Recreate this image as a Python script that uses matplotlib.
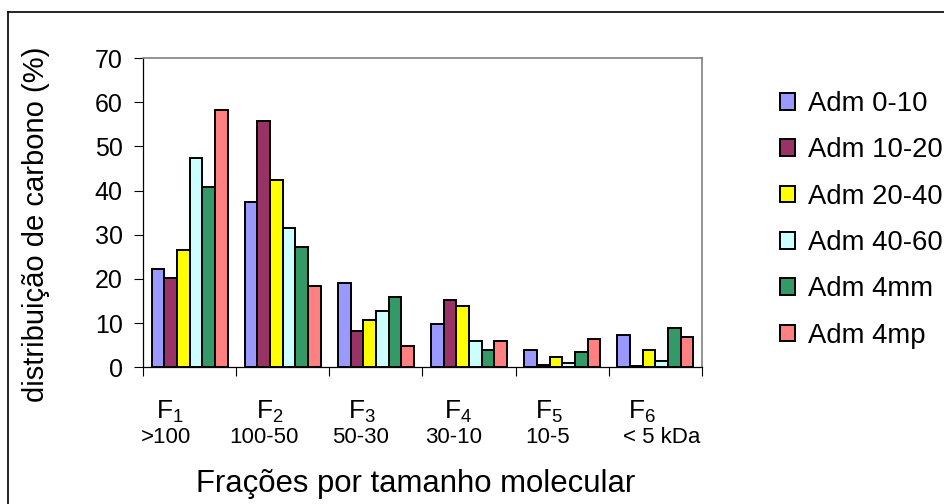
import matplotlib
matplotlib.use("Agg")
import matplotlib.pyplot as plt
import numpy as np
from matplotlib.lines import Line2D

plt.rcParams['font.family'] = ['Liberation Sans', 'DejaVu Sans']
plt.rcParams['mathtext.fontset'] = 'custom'
plt.rcParams['mathtext.rm'] = 'Liberation Sans'
plt.rcParams['mathtext.it'] = 'Liberation Sans'

# Molecular-size fractions
fractions = ["F$_1$", "F$_2$", "F$_3$", "F$_4$", "F$_5$", "F$_6$"]
size_ranges = [">100", "100-50", "50-30", "30-10", "10-5", "< 5 kDa"]

# Carbon distribution (%) per treatment
series_names = ["Adm 0-10", "Adm 10-20", "Adm 20-40", "Adm 40-60", "Adm 4mm", "Adm 4mp"]
adm_0_10 = [22.2, 37.5, 19.1, 9.9, 3.9, 7.4]
adm_10_20 = [20.1, 55.7, 8.3, 15.2, 0.5, 0.4]
adm_20_40 = [26.6, 42.4, 10.8, 13.8, 2.3, 3.9]
adm_40_60 = [47.3, 31.5, 12.8, 5.9, 1.0, 1.5]
adm_4mm = [40.9, 27.2, 15.8, 3.9, 3.4, 8.8]
adm_4mp = [58.2, 18.4, 4.9, 5.9, 6.4, 6.9]
series_values = [adm_0_10, adm_10_20, adm_20_40, adm_40_60, adm_4mm, adm_4mp]

colors = ["#9999FF", "#993366", "#FFFF00", "#CCFFFF", "#339966", "#FF8080"]

fig = plt.figure(figsize=(9.44, 5.04), dpi=100)
ax = fig.add_axes([143 / 944, 1 - 367.3 / 504, 559 / 944, 309.3 / 504])

x = np.arange(len(fractions))
n = len(series_values)
width = 0.136
for i, (name, vals, c) in enumerate(zip(series_names, series_values, colors)):
    ax.bar(x + (i - (n - 1) / 2) * width, vals, width, color=c,
           edgecolor="black", linewidth=1.4, label=name, zorder=3)

ax.set_xlim(-0.5, len(fractions) - 0.5)
ax.set_ylim(0, 70)
ax.set_yticks(np.arange(0, 71, 10))
ax.tick_params(axis="y", direction="out", length=6.5, width=0.8,
               labelsize=18, pad=8)
ax.set_xticks(np.arange(-0.5, len(fractions), 1.0))
ax.set_xticklabels([])
ax.tick_params(axis="x", direction="out", length=6.3, width=0.8)

for side in ("left", "bottom"):
    ax.spines[side].set_color("black")
    ax.spines[side].set_linewidth(0.9)
for side in ("top", "right"):
    ax.spines[side].set_color("#808080")
    ax.spines[side].set_linewidth(1.2)

# Category labels: fraction name above its size range
label_shift = [-0.21, -0.14, -0.15, -0.12, -0.14, -0.14]
range_shift = [-0.25, -0.20, -0.17, -0.17, -0.16, 0.07]
trans = ax.get_xaxis_transform()
for i in range(len(fractions)):
    ax.text(x[i] + label_shift[i], -0.145, fractions[i], transform=trans,
            ha="center", va="center", fontsize=19)
    ax.text(x[i] + range_shift[i], -0.228, size_ranges[i], transform=trans,
            ha="center", va="center", fontsize=16)

ax.set_ylabel("distribuição de carbono (%)", fontsize=21)
ax.yaxis.set_label_coords(-0.166, 0.463)

fig.text(416 / 944, 1 - 484 / 504, "Frações por tamanho molecular",
         ha="center", va="center", fontsize=22.4)

ax.legend(loc="upper left", bbox_to_anchor=(780 / 944, 1 - 91 / 504),
          bbox_transform=fig.transFigure, frameon=False, fontsize=19.8,
          handlelength=0.55, handleheight=0.55, handletextpad=0.45,
          labelspacing=0.74, borderpad=0, borderaxespad=0)

# Outer chart frame
fig.add_artist(Line2D([8 / 944, 8 / 944], [0, 1 - 12 / 504],
                      transform=fig.transFigure, color="black", linewidth=1.2))
fig.add_artist(Line2D([8 / 944, 1], [1 - 12 / 504, 1 - 12 / 504],
                      transform=fig.transFigure, color="black", linewidth=1.2))

fig.savefig("out.png", dpi=100)
